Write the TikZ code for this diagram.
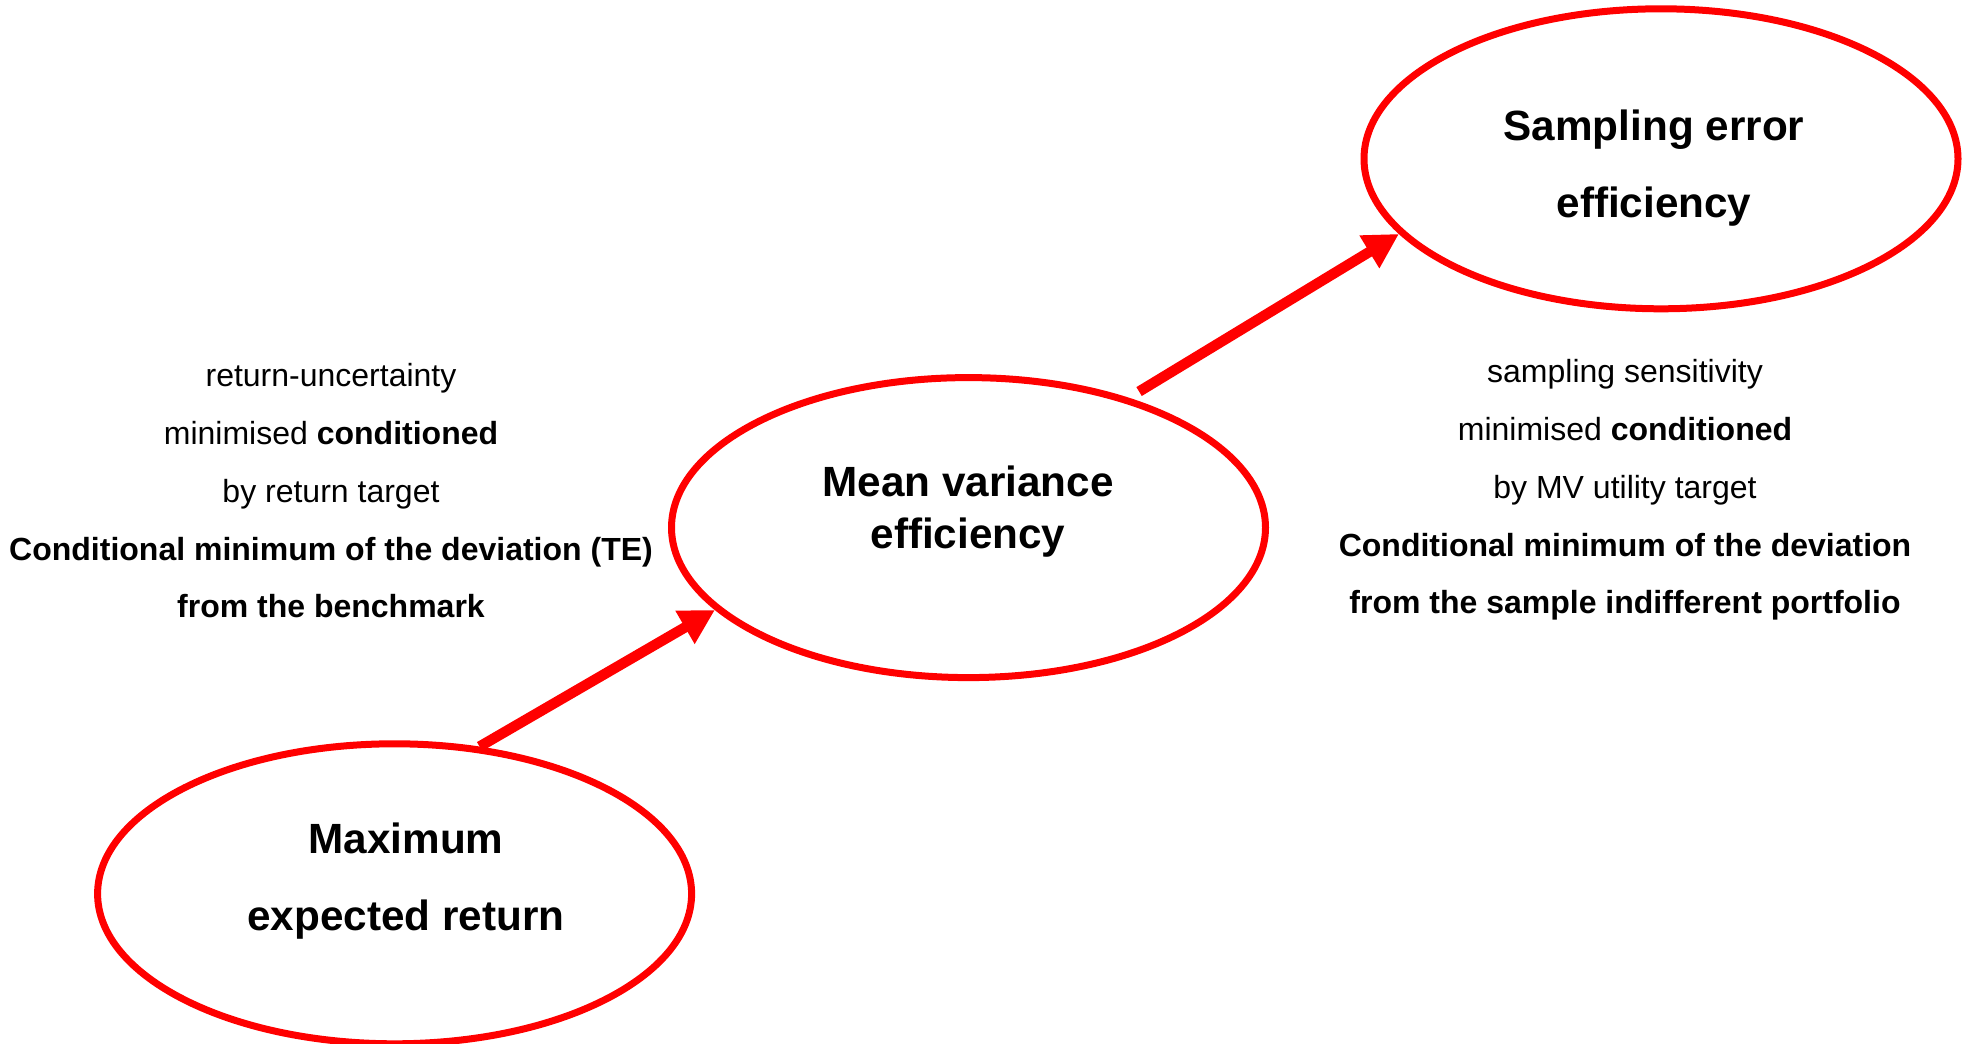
\documentclass[tikz,border=0pt]{standalone}
\usepackage{fontspec}
\setmainfont{Liberation Sans}
\usetikzlibrary{arrows.meta,shapes.geometric}
\begin{document}
\begin{tikzpicture}[x=0.75pt,y=-0.75pt,
  oval/.style={ellipse, draw=red, line width=5.25pt, minimum width=445.5pt, minimum height=225pt, inner sep=0pt},
  title/.style={font=\bfseries\fontsize{31.7}{38.6}\selectfont, align=center, inner sep=0pt},
  widetitle/.style={title, font=\bfseries\fontsize{31.7}{58}\selectfont},
  note/.style={font=\fontsize{24}{43.3}\selectfont, align=center, inner sep=0pt},
  link/.style={draw=red, line width=7.8pt, line cap=butt, -{Triangle[length=26pt,width=27pt]}}]
\useasboundingbox (0,0) rectangle (1968,1044);
\node[oval] (top) at (1661,158.8) {};
\node[oval] (mid) at (968.5,527.6) {};
\node[oval] (bot) at (394.6,893.8) {};
\node[widetitle] (toptitle) at (1654,168) {Sampling error\\efficiency};
\node[title] (midtitle) at (968,511.5) {Mean variance\\efficiency};
\node[widetitle] (bottitle) at (406,881) {Maximum\\expected return};
\node[note] (leftnote) at (331,491) {return-uncertainty\\minimised \textbf{conditioned}\\by return target\\\textbf{Conditional minimum of the deviation (TE)}\\\textbf{from the benchmark}};
\node[note] (rightnote) at (1625,490) {sampling sensitivity\\minimised \textbf{conditioned}\\by MV utility target\\\textbf{Conditional minimum of the deviation}\\\textbf{from the sample indifferent portfolio}};
\draw[link] (bot.60) -- (mid.198);
\draw[link, shorten <=9pt] (mid.39) -- (top.196);
\end{tikzpicture}
\end{document}
